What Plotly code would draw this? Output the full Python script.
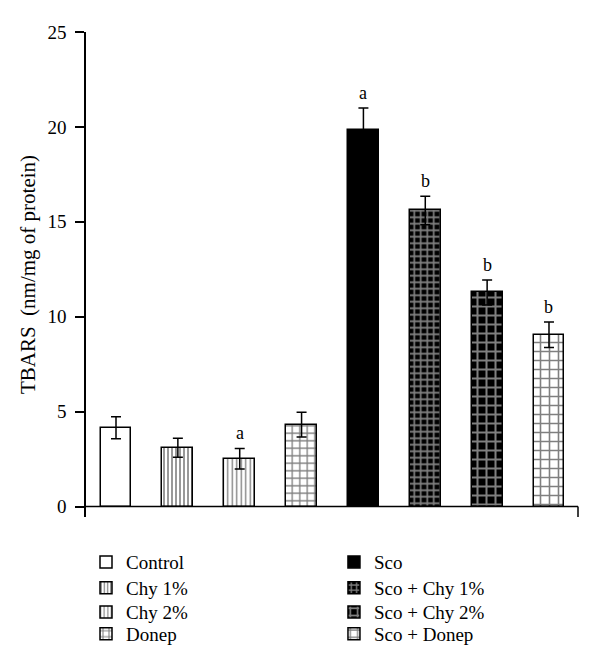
import plotly.graph_objects as go

groups = ["Control", "Chy 1%", "Chy 2%", "Donep", "Sco", "Sco + Chy 1%", "Sco + Chy 2%", "Sco + Donep"]
values = [4.15, 3.1, 2.52, 4.32, 19.82, 15.6, 11.28, 9.05]
errors = [0.58, 0.5, 0.54, 0.65, 1.17, 0.75, 0.66, 0.67]
letters = ["", "", "a", "", "a", "b", "b", "b"]
y_ticks = [0, 5, 10, 15, 20, 25]

patterns = [
    dict(shape="", bgcolor="white"),
    dict(shape="|", fgcolor="black", bgcolor="white", size=4, solidity=0.4),
    dict(shape="|", fgcolor="black", bgcolor="white", size=4.5, solidity=0.3),
    dict(shape="+", fgcolor="black", bgcolor="white", size=7.5, solidity=0.32),
    dict(shape="", bgcolor="black"),
    dict(shape="+", fgcolor="white", bgcolor="black", size=6.5, solidity=0.45),
    dict(shape="+", fgcolor="white", bgcolor="black", size=9, solidity=0.4),
    dict(shape="+", fgcolor="black", bgcolor="white", size=9, solidity=0.32),
]
colors = ["white", "white", "white", "white", "black", "black", "black", "white"]

FONT = "Liberation Serif"
# legend slot for each group: (column x in paper, row y in paper)
col_x = [0.0, 0.504]
row_y = [-0.093, -0.146, -0.196, -0.241]

fig = go.Figure()
layout_legends = {}
for i, g in enumerate(groups):
    lname = "legend" if i == 0 else f"legend{i + 1}"
    fig.add_trace(go.Bar(
        x=[i], y=[values[i]], name=g, width=0.5,
        marker=dict(color=colors[i], line=dict(color="black", width=1.5), pattern=patterns[i]),
        error_y=dict(type="data", array=[errors[i]], color="black", thickness=1.5, width=5),
        legend=lname,
    ))
    layout_legends[lname] = dict(
        x=col_x[i // 4], y=row_y[i % 4], xanchor="left", yanchor="middle",
        bgcolor="rgba(0,0,0,0)", font=dict(family=FONT, size=19), itemclick=False,
    )
    if letters[i]:
        fig.add_annotation(x=i, y=values[i] + errors[i], text=letters[i], showarrow=False,
                           yanchor="bottom", yshift=3, font=dict(family=FONT, size=18, color="black"))

# x-axis baseline and right end tick
fig.add_shape(type="line", xref="paper", yref="y", x0=0, x1=1, y0=0, y1=0,
              line=dict(color="black", width=1.5))
fig.add_shape(type="line", xref="paper", yref="y", x0=1, x1=1, y0=0, y1=-0.55,
              line=dict(color="black", width=1.5))

fig.update_layout(
    width=592, height=658,
    margin=dict(l=78, r=22, t=24, b=149, autoexpand=False),
    plot_bgcolor="white", paper_bgcolor="white",
    font=dict(family=FONT, size=16, color="black"),
    bargap=0,
    xaxis=dict(range=[-0.485, 7.469], showticklabels=False, showline=False, showgrid=False,
               zeroline=False, ticks="", automargin=False),
    yaxis=dict(range=[-0.55, 25], tickvals=y_ticks, ticks="outside", ticklen=9, tickwidth=1.5,
               tickcolor="black", showline=True, linecolor="black", linewidth=1.5,
               showgrid=False, zeroline=False, tickfont=dict(family=FONT, size=19), automargin=False,
               ticklabelstandoff=5,
               title=dict(text="TBARS  (nm/mg of protein)", font=dict(family=FONT, size=21), standoff=6)),
    showlegend=True,
    **layout_legends,
)

fig.write_html("out.html")
